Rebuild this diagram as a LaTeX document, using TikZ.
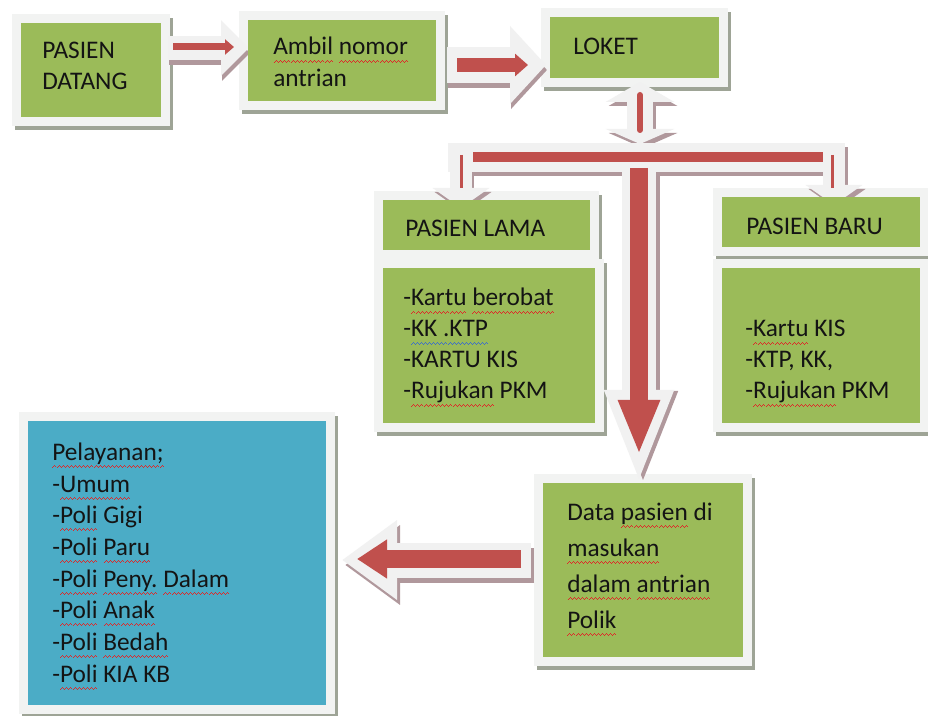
\documentclass[tikz,border=0pt]{standalone}
\usepackage{fontspec}
\setmainfont{Carlito}
\usetikzlibrary{arrows.meta,fit}
\definecolor{boxgreen}{RGB}{155,187,89}
\definecolor{boxblue}{RGB}{75,172,198}
\definecolor{arrred}{RGB}{192,80,77}
\definecolor{framecol}{RGB}{242,243,242}
\definecolor{boxshadow}{RGB}{158,164,150}
\definecolor{arrshadow}{RGB}{176,152,156}
\definecolor{arrwhite}{RGB}{241,241,241}
\definecolor{wavered}{RGB}{222,40,40}
\definecolor{waveblue}{RGB}{60,110,200}
\definecolor{textcol}{RGB}{20,20,20}
\newcommand\wavepiece{\hbox to 3pt{\rule[-5.6pt]{0.75pt}{0.7pt}\rule[-5.0pt]{0.75pt}{0.7pt}\rule[-4.4pt]{0.75pt}{0.7pt}\rule[-5.0pt]{0.75pt}{0.7pt}}}
\newcommand\wavy[2]{\setbox0\hbox{#2}\rlap{\usebox0}{\color{#1}\xleaders\wavepiece\hskip\wd0}}
\newcommand\rw[1]{\wavy{wavered}{#1}}
\newcommand\bw[1]{\wavy{waveblue}{#1}}
\newcommand\panelbg[4]{%
  \fill[boxshadow] (#1-6,#2-5) rectangle (#3+12,#4+13);
  \fill[framecol] (#1-9,#2-9) rectangle (#3+9,#4+9);}
\newcommand\ashadow[6]{%
  \draw[arrshadow, line width=#3, -{Triangle[length=#4,width=#5]}] ([shift={#6}]#1) -- ([shift={#6}]#2);}
\newcommand\awhite[5]{%
  \draw[arrwhite, line width=#3, -{Triangle[length=#4,width=#5]}] (#1) -- (#2);}
\begin{document}
\begin{tikzpicture}[x=0.75pt,y=-0.75pt,
  panel/.style={inner sep=0pt, draw=none},
  txt/.style={anchor=base west, inner sep=0pt, font=\fontsize{19}{23}\selectfont, text=textcol},
  redarrow/.style={draw=arrred, line width=#1}]
\useasboundingbox (0,0) rectangle (928,716);
\fill[white] (0,0) rectangle (928,716);
% panel backgrounds
\panelbg{21}{23}{161}{117}
\panelbg{248}{20}{436}{101}
\panelbg{550}{17}{719}{78}
\panelbg{383}{200}{590}{250}
\panelbg{383}{268}{595}{423}
\panelbg{722}{197}{920}{247}
\panelbg{722}{268}{920}{423}
\panelbg{543}{483}{743}{657}
\panelbg{28}{421}{326}{705}
% connector coordinates
\coordinate (a1s) at (168,48);  \coordinate (a1e) at (249,48);
\coordinate (r1s) at (173,47);  \coordinate (r1e) at (234,47);
\coordinate (a2s) at (447,65);  \coordinate (a2e) at (546,65);
\coordinate (r2s) at (457,65);  \coordinate (r2e) at (528,65);
\coordinate (l1) at (640,82);   \coordinate (l2) at (640,144);
\coordinate (r3s) at (640,95);  \coordinate (r3e) at (640,130);
\coordinate (bl1) at (461,150); \coordinate (bl2) at (461,208);
\coordinate (br1) at (834,150); \coordinate (br2) at (834,205);
\coordinate (rbl1) at (461,155); \coordinate (rbl2) at (461,188);
\coordinate (rbr1) at (832,155); \coordinate (rbr2) at (832,188);
\coordinate (bar1) at (473,157); \coordinate (bar2) at (823,157);
\coordinate (c1) at (639,165);  \coordinate (c2) at (639,485);
\coordinate (rc1) at (639,168); \coordinate (rc2) at (639,455);
\coordinate (d1) at (531,560);  \coordinate (d2) at (342,560);
\coordinate (rd1) at (521,559); \coordinate (rd2) at (357,559);
% arrow shadows
\ashadow{a1s}{a1e}{18pt}{21pt}{40.5pt}{(1,5)}
\ashadow{a2s}{a2e}{27pt}{27pt}{57pt}{(1,5)}
\draw[arrshadow, line width=19.5pt, {Triangle[length=15pt,width=51pt]}-{Triangle[length=11.25pt,width=51pt]}] ([shift={(3,4)}]l1) -- ([shift={(3,4)}]l2);
\fill[arrshadow] (451,147) rectangle (848,176);
\ashadow{bl1}{bl2}{16.5pt}{15pt}{42pt}{(2,4)}
\ashadow{br1}{br2}{16.5pt}{15pt}{42pt}{(3,4)}
\ashadow{c1}{c2}{25.5pt}{71.25pt}{46.5pt}{(4,1)}
\ashadow{d1}{d2}{26.25pt}{41.25pt}{57pt}{(3,5)}
% arrow bodies
\awhite{a1s}{a1e}{18pt}{21pt}{40.5pt}
\awhite{a2s}{a2e}{27pt}{27pt}{57pt}
\draw[arrwhite, line width=19.5pt, {Triangle[length=15pt,width=51pt]}-{Triangle[length=11.25pt,width=51pt]}] (l1) -- (l2);
\fill[arrwhite] (448,143) rectangle (845,172);
\awhite{bl1}{bl2}{16.5pt}{15pt}{42pt}
\awhite{br1}{br2}{16.5pt}{15pt}{42pt}
\awhite{c1}{c2}{25.5pt}{71.25pt}{46.5pt}
\awhite{d1}{d2}{26.25pt}{41.25pt}{57pt}
% red arrows
\draw[redarrow=5.25pt, -{Triangle[length=6.75pt,width=11.25pt]}] (r1s) -- (r1e);
\draw[redarrow=10.5pt, -{Triangle[length=9.75pt,width=16.5pt]}] (r2s) -- (r2e);
\draw[redarrow=4.5pt, line cap=round] (r3s) -- (r3e);
\draw[redarrow=7.5pt] (bar1) -- (bar2);
\draw[redarrow=2.25pt] (rbl1) -- (rbl2);
\draw[redarrow=2.25pt] (rbr1) -- (rbr2);
\draw[redarrow=13.5pt, -{Triangle[length=41.25pt,width=28.5pt]}] (rc1) -- (rc2);
\draw[redarrow=13.5pt, -{Triangle[length=22.5pt,width=27.75pt]}] (rd1) -- (rd2);
% panels
\node[panel, fill=boxgreen, fit={(21,23)(161,117)}] (pd) {};
\node[panel, fill=boxgreen, fit={(248,20)(436,101)}] (ambil) {};
\node[panel, fill=boxgreen, fit={(550,17)(719,78)}] (loket) {};
\node[panel, fill=boxgreen, fit={(383,200)(590,250)}] (lamah) {};
\node[panel, fill=boxgreen, fit={(383,268)(595,423)}] (lamab) {};
\node[panel, fill=boxgreen, fit={(722,197)(920,247)}] (baruh) {};
\node[panel, fill=boxgreen, fit={(722,268)(920,423)}] (barub) {};
\node[panel, fill=boxgreen, fit={(543,483)(743,657)}] (data) {};
\node[panel, fill=boxblue, fit={(28,421)(326,705)}] (pel) {};
% texts
\node[txt] (pd1) at (42,59) {PASIEN};
\node[txt] (pd2) at (42,90) {DATANG};
\node[txt] (am1) at (273,55) {\rw{Ambil} \rw{nomor}};
\node[txt] (am2) at (273,87) {antrian};
\node[txt] (lk1) at (573,55) {LOKET};
\node[txt] (lh1) at (405,237) {PASIEN LAMA};
\node[txt] (bh1) at (746,235) {PASIEN BARU};
\node[txt] (lb1) at (403,306) {-\rw{Kartu} \rw{berobat}};
\node[txt] (lb2) at (403,337) {-\bw{KK .KTP}};
\node[txt] (lb3) at (403,368) {-KARTU KIS};
\node[txt] (lb4) at (403,399) {-\rw{Rujukan} PKM};
\node[txt] (bb1) at (745,337) {-\rw{Kartu} KIS};
\node[txt] (bb2) at (745,368) {-KTP, KK,};
\node[txt] (bb3) at (745,399) {-\rw{Rujukan} PKM};
\node[txt] (pl1) at (52,460) {\rw{Pelayanan;}};
\node[txt] (pl2) at (52,492) {-\rw{Umum}};
\node[txt] (pl3) at (52,523) {-\rw{Poli} Gigi};
\node[txt] (pl4) at (52,555) {-\rw{Poli} \rw{Paru}};
\node[txt] (pl5) at (52,587) {-\rw{Poli} \rw{Peny.} \rw{Dalam}};
\node[txt] (pl6) at (52,618) {-\rw{Poli} \rw{Anak}};
\node[txt] (pl7) at (52,650) {-\rw{Poli} \rw{Bedah}};
\node[txt] (pl8) at (52,682) {-\rw{Poli} KIA KB};
\node[txt] (dt1) at (567,520) {Data \rw{pasien} di};
\node[txt] (dt2) at (567,556) {\rw{masukan}};
\node[txt] (dt3) at (567,592) {\rw{dalam} \rw{antrian}};
\node[txt] (dt4) at (567,628) {\rw{Polik}};
\end{tikzpicture}
\end{document}
